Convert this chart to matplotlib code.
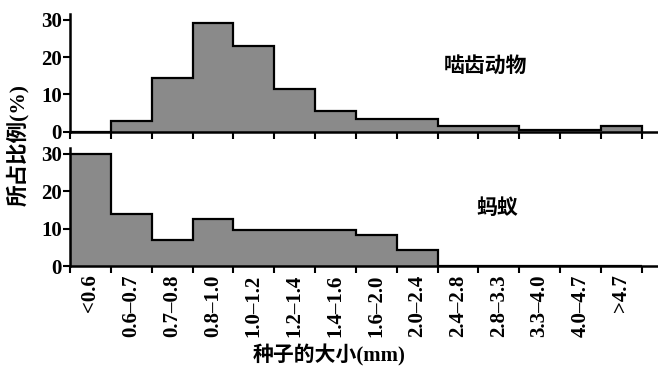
import numpy as np
import matplotlib
matplotlib.use("Agg")
import matplotlib.pyplot as plt

# seed size classes (mm)
size_bins = ["<0.6", "0.6–0.7", "0.7–0.8", "0.8–1.0", "1.0–1.2", "1.2–1.4",
             "1.4–1.6", "1.6–2.0", "2.0–2.4", "2.4–2.8", "2.8–3.3", "3.3–4.0",
             "4.0–4.7", ">4.7"]
# share of seeds eaten (%)
rodents = [0, 3, 14.5, 29, 23, 11.5, 5.5, 3.3, 3.3, 1.5, 1.5, 0.5, 0.5, 1.5]
ants = [30, 14, 7, 12.6, 9.5, 9.5, 9.5, 8.4, 4.3, 0, 0, 0, 0, 0]
panel_names = ["啮齿动物", "蚂蚁"]
y_ticks = [0, 10, 20, 30]

NUM_FONT = "Liberation Serif"
CJK_FONTS = ["Liberation Serif", "Noto Sans CJK SC"]
FILL = "#8a8a8a"

fig = plt.figure(figsize=(6.58, 3.70), dpi=100)
ax_top = fig.add_axes([0.1064, 0.644, 0.8936, 0.318])
ax_bot = fig.add_axes([0.1064, 0.281, 0.8936, 0.319])

edges = np.arange(len(size_bins) + 1)

panels = [(ax_top, rodents, panel_names[0], (0.706, 0.555)),
          (ax_bot, ants, panel_names[1], (0.726, 0.48))]
for ax, vals, name, pos in panels:
    ax.stairs(vals, edges, baseline=0, fill=True, color=FILL, lw=0)
    ax.stairs(vals, edges, baseline=0, color="black", lw=1.6)
    ax.set_xlim(0, len(size_bins) + 0.4)
    ax.set_ylim(0, 31.5)
    ax.spines[["top", "right"]].set_visible(False)
    ax.spines[["left", "bottom"]].set_linewidth(1.8)
    ax.set_yticks(y_ticks)
    ax.set_yticklabels([str(t) for t in y_ticks], fontfamily=NUM_FONT,
                       fontweight="bold", fontsize=15)
    ax.set_xticks(edges)
    ax.set_xticklabels([])
    ax.tick_params(axis="both", direction="out", length=5, width=1.5, pad=1)
    ax.text(pos[0], pos[1], name, transform=ax.transAxes,
            family=CJK_FONTS, fontweight="bold", fontsize=15,
            ha="center", va="center")

# bin labels sit in the middle of each class on the lower panel
ax_bot.set_xticks(edges[:-1] + 0.5, minor=True)
ax_bot.set_xticklabels(size_bins, minor=True, rotation=90,
                       fontfamily=NUM_FONT, fontweight="bold", fontsize=15)
ax_bot.tick_params(axis="x", which="minor", length=0, pad=6)

ax_bot.set_xlabel("种子的大小(mm)", family=CJK_FONTS, fontweight="bold",
                  fontsize=15)
ax_bot.xaxis.set_label_coords(0.44, -0.665)

fig.text(0.027, 0.608, "所占比例(%)", rotation=90, family=CJK_FONTS,
         fontweight="bold", fontsize=15.5, ha="center", va="center")

fig.savefig("out.png", dpi=100)
